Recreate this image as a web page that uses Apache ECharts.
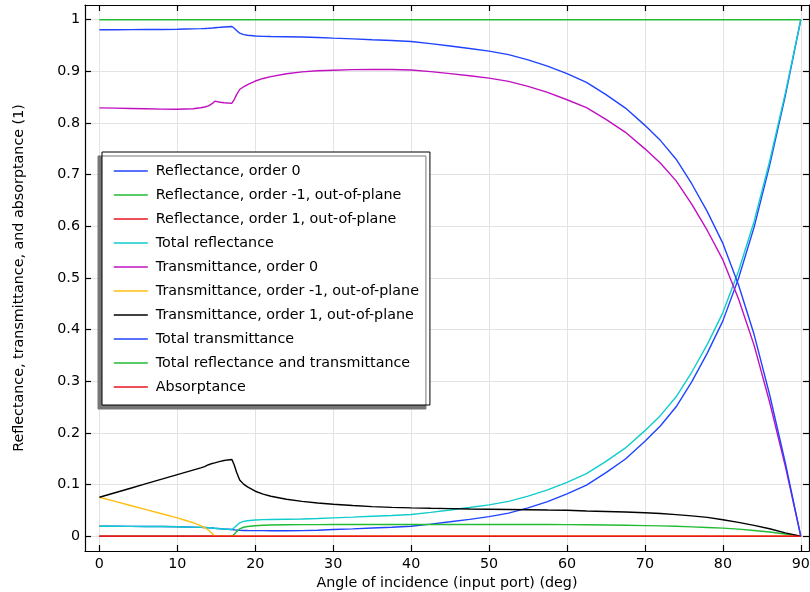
<!DOCTYPE html>
<html>
<head>
<meta charset="utf-8">
<script src="https://cdn.jsdelivr.net/npm/echarts@6/dist/echarts.min.js"></script>
<style>html,body{margin:0;padding:0;background:#fff}#c{width:810px;height:592px}</style>
</head>
<body>
<div id="c"></div>
<script>
// ---- data ----
const xTicks = [0, 10, 20, 30, 40, 50, 60, 70, 80, 90];
const yTicks = [0, 0.1, 0.2, 0.3, 0.4, 0.5, 0.6, 0.7, 0.8, 0.9, 1];
const seriesNames = [
  'Reflectance, order 0',
  'Reflectance, order -1, out-of-plane',
  'Reflectance, order 1, out-of-plane',
  'Total reflectance',
  'Transmittance, order 0',
  'Transmittance, order -1, out-of-plane',
  'Transmittance, order 1, out-of-plane',
  'Total transmittance',
  'Total reflectance and transmittance',
  'Absorptance'
];
const angles = [0, 2, 4, 6, 8, 10, 11, 12, 13, 13.5, 14, 14.5, 14.8, 15, 15.5, 16, 16.5, 17, 17.3, 17.6, 18, 18.5, 19, 20, 21, 22, 24, 26, 28, 30, 32.5, 35, 37.5, 40, 42.5, 45, 47.5, 50, 52.5, 55, 57.5, 60, 62.5, 65, 67.5, 70, 72, 74, 76, 78, 80, 82, 84, 86, 88, 90];
const reflOrder0 = [0.0194, 0.0193, 0.0192, 0.019, 0.0188, 0.0184, 0.0181, 0.0178, 0.0173, 0.017, 0.0166, 0.016, 0.0156, 0.0153, 0.0147, 0.014, 0.0135, 0.013, 0.0125, 0.012, 0.0116, 0.0113, 0.0111, 0.011, 0.0109, 0.0108, 0.0108, 0.011, 0.0117, 0.013, 0.0143, 0.016, 0.0175, 0.0194, 0.0235, 0.028, 0.0328, 0.038, 0.0448, 0.055, 0.067, 0.082, 0.099, 0.1232, 0.1497, 0.1838, 0.2139, 0.2507, 0.299, 0.3545, 0.417, 0.499, 0.598, 0.718, 0.852, 1.0];
const reflOrderM1 = [0, 0, 0, 0, 0, 0, 0, 0, 0, 0, 0, 0, 0, 0, 0, 0, 0, 0, 0.004, 0.009, 0.0145, 0.0175, 0.019, 0.0205, 0.0213, 0.0218, 0.0222, 0.0225, 0.0226, 0.0227, 0.0228, 0.0228, 0.0228, 0.0228, 0.0228, 0.0228, 0.0228, 0.0228, 0.0228, 0.0228, 0.0227, 0.0225, 0.0222, 0.0218, 0.0213, 0.0207, 0.0201, 0.0193, 0.0183, 0.0171, 0.0157, 0.0138, 0.0112, 0.0082, 0.0045, 0];
const endAngles = [0, 90];
const reflOrder1 = [0, 0];
const totalRefl = [0.0194, 0.0193, 0.0192, 0.019, 0.0188, 0.0184, 0.0181, 0.0178, 0.0173, 0.017, 0.0166, 0.016, 0.0156, 0.0153, 0.0147, 0.014, 0.0135, 0.013, 0.0165, 0.021, 0.0261, 0.0288, 0.0301, 0.0315, 0.0322, 0.0326, 0.033, 0.0335, 0.0343, 0.0357, 0.0371, 0.0388, 0.0403, 0.0422, 0.0463, 0.0508, 0.0556, 0.0608, 0.0676, 0.0778, 0.0897, 0.1045, 0.1212, 0.145, 0.171, 0.2045, 0.234, 0.270, 0.3175, 0.3715, 0.433, 0.513, 0.609, 0.726, 0.857, 1.0];
const transOrder0 = [0.8294, 0.8288, 0.8282, 0.8276, 0.827, 0.8266, 0.8271, 0.8276, 0.8296, 0.831, 0.8333, 0.838, 0.8424, 0.8419, 0.8403, 0.8393, 0.8387, 0.8384, 0.8455, 0.855, 0.8649, 0.8702, 0.8743, 0.8813, 0.8863, 0.8899, 0.8953, 0.899, 0.9012, 0.9023, 0.9034, 0.9037, 0.9037, 0.9028, 0.8995, 0.8957, 0.8916, 0.8869, 0.8806, 0.8709, 0.8595, 0.8451, 0.8298, 0.807, 0.782, 0.75, 0.722, 0.688, 0.643, 0.592, 0.535, 0.46, 0.37, 0.2595, 0.1365, 0];
const transOrderM1 = [0.0756, 0.0676, 0.0596, 0.0516, 0.0436, 0.0355, 0.031, 0.0265, 0.0207, 0.017, 0.0116, 0.005, 0, 0, 0, 0, 0, 0, 0, 0, 0, 0, 0, 0, 0, 0, 0, 0, 0, 0, 0, 0, 0, 0, 0, 0, 0, 0, 0, 0, 0, 0, 0, 0, 0, 0, 0, 0, 0, 0, 0, 0, 0, 0, 0, 0];
const transOrder1 = [0.0756, 0.0843, 0.093, 0.1018, 0.1106, 0.1195, 0.1238, 0.1281, 0.1324, 0.135, 0.1385, 0.141, 0.142, 0.1428, 0.145, 0.1467, 0.1478, 0.1486, 0.138, 0.124, 0.109, 0.101, 0.0956, 0.0872, 0.0815, 0.0775, 0.0717, 0.0675, 0.0645, 0.062, 0.0595, 0.0575, 0.056, 0.055, 0.0542, 0.0535, 0.0528, 0.0523, 0.0518, 0.0513, 0.0508, 0.0504, 0.049, 0.048, 0.047, 0.0455, 0.044, 0.042, 0.0395, 0.0365, 0.032, 0.027, 0.021, 0.0145, 0.0065, 0];
const totalTrans = [0.9806, 0.9807, 0.9808, 0.981, 0.9812, 0.9816, 0.9819, 0.9822, 0.9827, 0.983, 0.9834, 0.984, 0.9844, 0.9847, 0.9853, 0.986, 0.9865, 0.987, 0.9835, 0.979, 0.9739, 0.9712, 0.9699, 0.9685, 0.9678, 0.9674, 0.967, 0.9665, 0.9657, 0.9643, 0.9629, 0.9612, 0.9597, 0.9578, 0.9537, 0.9492, 0.9444, 0.9392, 0.9324, 0.9222, 0.9103, 0.8955, 0.8788, 0.855, 0.829, 0.7955, 0.766, 0.730, 0.6825, 0.6285, 0.567, 0.487, 0.391, 0.274, 0.143, 0];
const totalRT = [1, 1];
const absorptance = [0, 0];

// ---- chart ----
const FONT = 'DejaVu Sans';
const FS = 14.3;
const colors = ['#1f43ff', '#22bb33', '#e8141e', '#11cccc', '#c010c0', '#ffbf10', '#000000', '#1f43ff', '#22bb33', '#e8141e'];
const seriesX = [angles, angles, endAngles, angles, angles, angles, angles, angles, endAngles, endAngles];
const seriesY = [reflOrder0, reflOrderM1, reflOrder1, totalRefl, transOrder0, transOrderM1, transOrder1, totalTrans, totalRT, absorptance];

const series = seriesNames.map((name, k) => ({
  name: name,
  type: 'line',
  xAxisIndex: 0,
  yAxisIndex: 0,
  symbol: 'none',
  animation: false,
  lineStyle: { color: colors[k], width: 1.4 },
  itemStyle: { color: colors[k] },
  data: seriesX[k].map((a, i) => [a, seriesY[k][i]])
}));

const gridLine = { show: true, lineStyle: { color: '#e3e3e3', width: 1 } };
const axisLine = { show: true, onZero: false, lineStyle: { color: '#000', width: 1.2 } };
const tickStyle = (vals) => ({ show: true, inside: true, length: 6, customValues: vals, lineStyle: { color: '#000', width: 1.2 } });

const option = {
  animation: false,
  backgroundColor: '#fff',
  grid: { left: 85, right: 1, top: 5, bottom: 41, containLabel: false, outerBoundsMode: 'none' },
  xAxis: [
    {
      type: 'value', position: 'bottom', min: -1.85, max: 91.05,
      axisLine: axisLine, axisTick: tickStyle(xTicks),
      splitLine: gridLine,
      axisLabel: { customValues: xTicks, color: '#000', fontFamily: FONT, fontSize: FS, margin: 6 },
      name: 'Angle of incidence (input port) (deg)', nameLocation: 'middle', nameGap: 20,
      nameTextStyle: { color: '#000', fontFamily: FONT, fontSize: FS }
    },
    {
      type: 'value', position: 'top', min: -1.85, max: 91.05,
      axisLine: axisLine, axisTick: tickStyle(xTicks),
      splitLine: { show: false }, axisLabel: { show: false }
    }
  ],
  yAxis: [
    {
      type: 'value', position: 'left', min: -0.0285, max: 1.0285,
      axisLine: axisLine, axisTick: tickStyle(yTicks),
      splitLine: gridLine,
      axisLabel: { customValues: yTicks, color: '#000', fontFamily: FONT, fontSize: FS, margin: 5 },
      name: 'Reflectance, transmittance, and absorptance (1)', nameLocation: 'middle', nameGap: 59,
      nameTextStyle: { color: '#000', fontFamily: FONT, fontSize: FS }
    },
    {
      type: 'value', position: 'right', min: -0.0285, max: 1.0285,
      axisLine: axisLine, axisTick: tickStyle(yTicks),
      splitLine: { show: false }, axisLabel: { show: false }
    }
  ],
  legend: {
    orient: 'vertical', left: 102, top: 152,
    itemWidth: 34, itemHeight: 14, itemGap: 10,
    padding: [12, 11, 11, 11],
    backgroundColor: '#fff', borderColor: '#000', borderWidth: 1,
    shadowColor: '#777', shadowOffsetX: -4, shadowOffsetY: 4, shadowBlur: 0,
    selectedMode: false,
    itemStyle: { opacity: 0 },
    lineStyle: { width: 1.6 },
    textStyle: { color: '#000', fontFamily: FONT, fontSize: FS, padding: [0, 0, 0, 3] },
    data: seriesNames
  },
  series: series
};

const chart = echarts.init(document.getElementById('c'), null, { renderer: 'canvas' });
chart.setOption(option);
</script>
</body>
</html>
